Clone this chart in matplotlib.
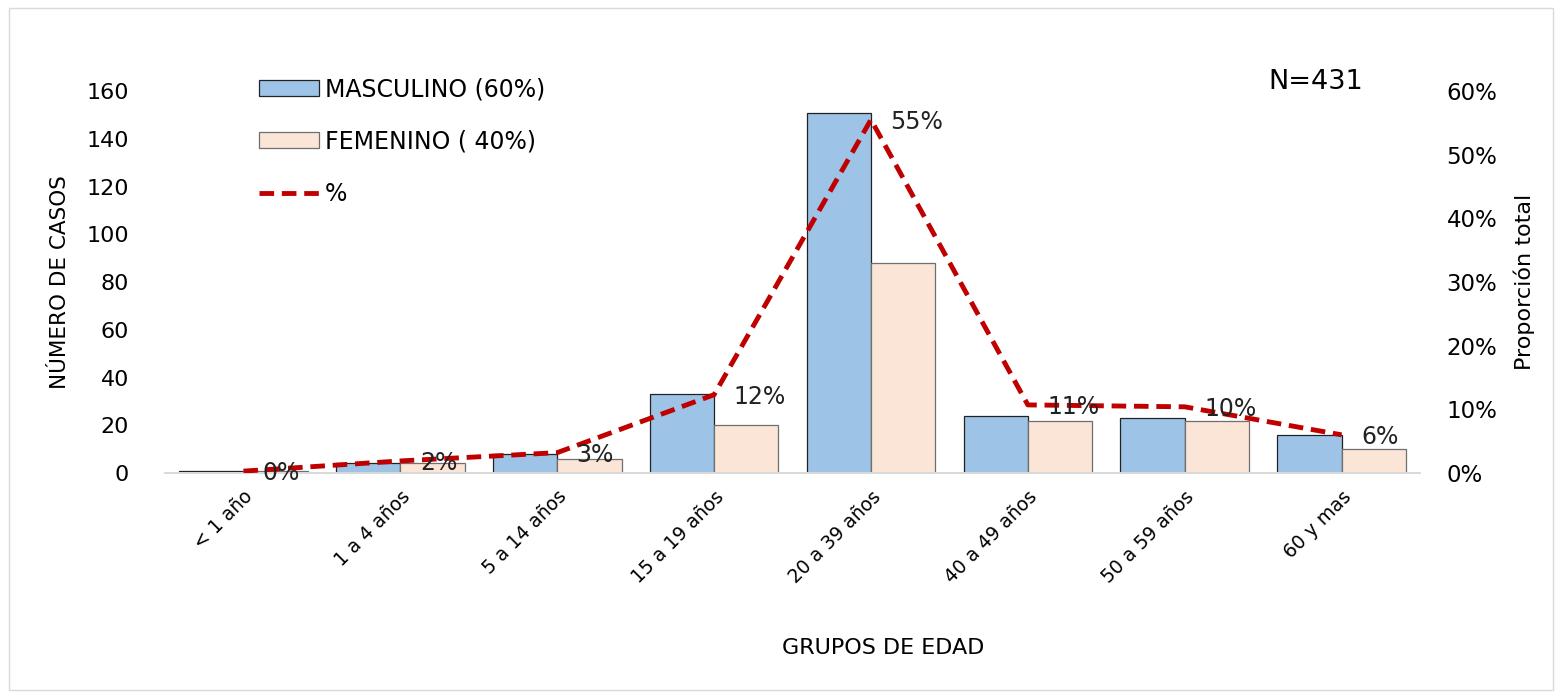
import numpy as np
import matplotlib
matplotlib.use('Agg')
import matplotlib.pyplot as plt
from matplotlib.patches import Rectangle
from matplotlib.ticker import FuncFormatter

plt.rcParams['font.family'] = ['DejaVu Sans']

grupos = ['< 1 año', '1 a 4 años', '5 a 14 años', '15 a 19 años',
          '20 a 39 años', '40 a 49 años', '50 a 59 años', '60 y mas']
masculino = [1, 4, 8, 33, 151, 24, 23, 16]
femenino = [1, 4, 6, 20, 88, 22, 22, 10]
proporcion = [0.3, 1.9, 3.2, 12.3, 55.5, 10.7, 10.4, 6.0]
etiquetas = ['0%', '2%', '3%', '12%', '55%', '11%', '10%', '6%']

fig = plt.figure(figsize=(15.61, 6.98), dpi=100)
ax = fig.add_axes([0.1057, 0.3223, 0.804, 0.5473])
ax2 = ax.twinx()

x = np.arange(len(grupos))
w = 0.41
ax.bar(x - w / 2, masculino, w, color='#9DC3E6', edgecolor='#222222',
       linewidth=0.9, label='MASCULINO (60%)', zorder=2)
ax.bar(x + w / 2, femenino, w, color='#FBE5D6', edgecolor='#6f6f6f',
       linewidth=0.9, label='FEMENINO ( 40%)', zorder=2)

ax2.plot(x, proporcion, color='#C00000', linestyle=(0, (3, 1.6)),
         linewidth=3.5, label='%', zorder=3)
for xi, yi, t in zip(x, proporcion, etiquetas):
    ax2.annotate(t, (xi, yi), xytext=(14, -1.5), textcoords='offset points',
                 ha='left', va='center', fontsize=17, color='#222222')

ax.set_xlim(-0.5, len(grupos) - 0.5)
ax.set_ylim(0, 160)
ax.set_yticks(range(0, 161, 20))
ax2.set_ylim(0, 60)
ax2.set_yticks(range(0, 61, 10))
ax2.yaxis.set_major_formatter(FuncFormatter(lambda v, p: '{:.0f}%'.format(v)))

ax.set_xticks(x)
ax.set_xticklabels(grupos, rotation=45, ha='right', rotation_mode='anchor',
                   fontsize=13.5)
ax.tick_params(axis='x', length=0, pad=10)
ax.tick_params(axis='y', length=0, pad=26, labelsize=16)
ax2.tick_params(axis='y', length=0, pad=19, labelsize=16.5)

for a in (ax, ax2):
    for s in ['top', 'left', 'right']:
        a.spines[s].set_visible(False)
    a.spines['bottom'].set_color('#d9d9d9')
    a.spines['bottom'].set_linewidth(1.2)

ax.set_ylabel('NÚMERO DE CASOS', fontsize=15.5, labelpad=12)
ax2.set_ylabel('Proporción total', fontsize=16, labelpad=12)
fig.text(0.566, 0.072, 'GRUPOS DE EDAD', ha='center', va='center', fontsize=16)
fig.text(0.843, 0.882, 'N=431', ha='center', va='center', fontsize=19.5)

h1, l1 = ax.get_legend_handles_labels()
h2, l2 = ax2.get_legend_handles_labels()
fig.legend(h1 + h2, l1 + l2, loc='upper left', bbox_to_anchor=(0.152, 0.92),
           frameon=False, fontsize=17, handlelength=2.55, handleheight=0.65,
           labelspacing=1.2, handletextpad=0.25)

fig.patches.append(Rectangle((0.006, 0.012), 0.989, 0.977, transform=fig.transFigure,
                             fill=False, edgecolor='#d9d9d9', linewidth=1.0))

fig.savefig('out.png', dpi=100)
